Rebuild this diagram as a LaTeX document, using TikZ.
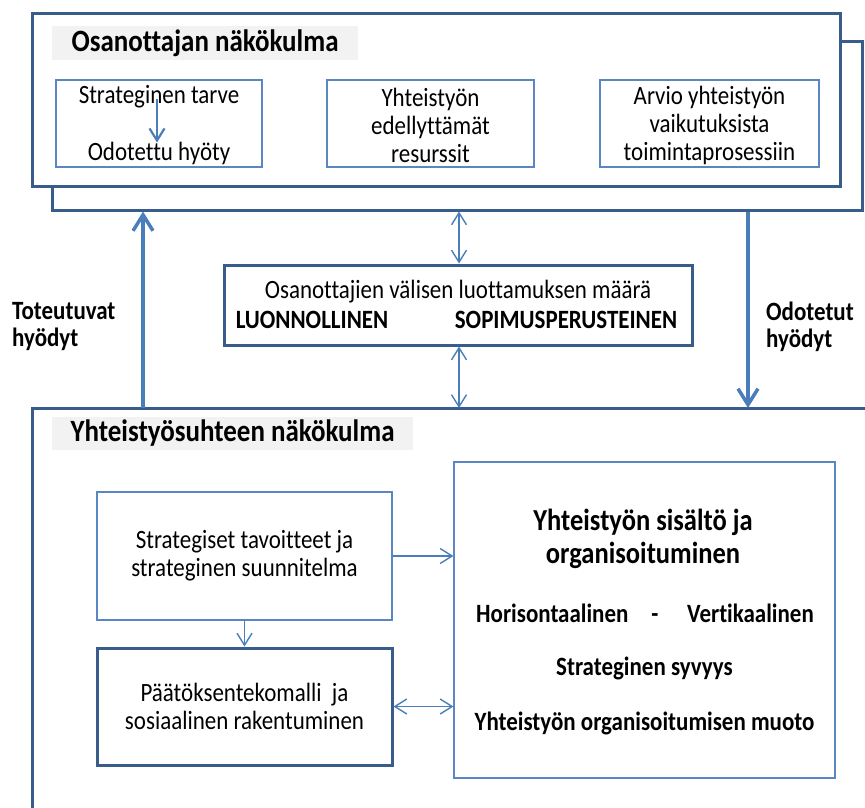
\documentclass[tikz,border=0pt]{standalone}
\usepackage{fontspec}
\setmainfont{Carlito}[Ligatures={NoCommon},FakeStretch=0.87]
\usetikzlibrary{arrows.meta}
\definecolor{framec}{RGB}{56,93,138}
\definecolor{arrowc}{RGB}{74,126,187}
\definecolor{thinc}{RGB}{90,135,195}
\definecolor{titlebgc}{RGB}{242,242,242}
\tikzset{
  thickbox/.style={draw=framec, line width=3pt, fill=white, inner sep=0pt},
  thinbox/.style={draw=thinc, line width=1.1pt, fill=white, inner sep=0pt},
  titlebox/.style={fill=titlebgc, inner sep=0pt, font=\fontsize{31}{32}\selectfont\bfseries},
  txt/.style={inner sep=0pt, align=center, font=\fontsize{26.4}{28}\selectfont},
  btxt/.style={inner sep=0pt, align=center, font=\fontsize{26.4}{27}\selectfont\bfseries},
  bigarrow/.style={draw=arrowc, line width=3.5pt, -{Straight Barb[length=16pt,width=20pt,line width=3.5pt]}},
  thinarrow/.style={draw=arrowc, line width=1.4pt, -{Straight Barb[length=12pt,width=15pt,line width=1.4pt]}},
  thindarrow/.style={draw=arrowc, line width=1.4pt, {Straight Barb[length=12pt,width=15pt,line width=1.4pt]}-{Straight Barb[length=12pt,width=15pt,line width=1.4pt]}},
}
\begin{document}
\begin{tikzpicture}[x=1pt,y=-1pt]
\useasboundingbox (0,0) rectangle (865,808);
% top frames
\node[thickbox, minimum width=810pt, minimum height=168pt] (back) at (457,126) {};
\node[thickbox, minimum width=808pt, minimum height=172pt] (front) at (436,100) {};
\node[titlebox, minimum width=306pt, minimum height=34pt] (t1) at (205,43) {Osanottajan näkökulma};
% small boxes
\node[thinbox, minimum width=206pt, minimum height=87pt] (b1) at (159,123.5) {};
\node[thinbox, minimum width=207pt, minimum height=87pt] (b2) at (430.5,123.5) {};
\node[thinbox, minimum width=219pt, minimum height=87pt] (b3) at (709.5,123.5) {};
\node[txt] (tarve) at (159,97) {Strateginen tarve};
\node[txt] (hyoty) at (159,153) {Odotettu hyöty};
\node[txt] (b2t) at (430.5,125) {Yhteistyön\\edellyttämät\\resurssit};
\node[txt] (b3t) at (709.5,125) {Arvio yhteistyön\\vaikutuksista\\toimintaprosessiin};
\draw[draw=arrowc, line width=2.2pt, -{Straight Barb[length=12pt,width=15pt,line width=2.2pt]}] ([xshift=-2pt,yshift=-2pt]tarve.center) -- ([xshift=-2pt,yshift=-1pt]hyoty.north);
% trust box
\node[thickbox, minimum width=468pt, minimum height=80pt] (trust) at (458,305) {};
\node[txt] (trust1) at (458,292) {Osanottajien välisen luottamuksen määrä};
\node[btxt] (luon) at (312,320) {LUONNOLLINEN};
\node[btxt] (sopi) at (566,320) {SOPIMUSPERUSTEINEN};
% side labels
\node[btxt, align=left, anchor=west] (tot) at (12,326.5) {Toteutuvat\\hyödyt};
\node[btxt, align=left, anchor=west] (odo) at (766,326.5) {Odotetut\\hyödyt};
% bottom frame
\draw[draw=framec, line width=3pt] (32,809) -- (32,408) -- (866,408);
\coordinate (ub) at (143,408);
\coordinate (db) at (748,408);
\coordinate (mb) at (459,408);
\draw[bigarrow] (ub) -- (ub |- back.south);
\draw[bigarrow] (db |- back.south) -- (db);
\draw[thindarrow] (trust.north -| mb) -- (mb |- back.south);
\draw[thindarrow] (trust.south -| mb) -- (mb);
\node[titlebox, minimum width=361pt, minimum height=33pt] (t2) at (232.5,433.5) {Yhteistyösuhteen näkökulma};
% lower boxes
\node[thinbox, minimum width=295pt, minimum height=128pt, txt] (strat) at (244.5,556) {Strategiset tavoitteet ja\\strateginen suunnitelma};
\node[thickbox, minimum width=295pt, minimum height=117pt, txt] (paatos) at (244.5,706.5) {Päätöksentekomalli\ \ ja\\sosiaalinen rakentuminen};
\node[thinbox, minimum width=381pt, minimum height=316pt] (big) at (644.5,620) {};
\node[btxt, font=\fontsize{30.5}{33}\selectfont\bfseries] (bigt) at (643,538.5) {Yhteistyön sisältö ja\\organisoituminen};
\node[btxt, anchor=base west] (hor) at (476,622) {Horisontaalinen};
\node[btxt, anchor=base] (dash) at (655,622) {-};
\node[btxt, anchor=base east] (ver) at (814,622) {Vertikaalinen};
\node[btxt] (syv) at (644.5,668) {Strateginen syvyys};
\node[btxt] (muoto) at (644.5,723) {Yhteistyön organisoitumisen\ muoto};
\draw[thinarrow] (strat.east) -- (strat.east -| big.west);
\draw[thinarrow] (strat.south) -- (paatos.north);
\draw[thindarrow] (paatos.east) -- (paatos.east -| big.west);
\end{tikzpicture}
\end{document}
